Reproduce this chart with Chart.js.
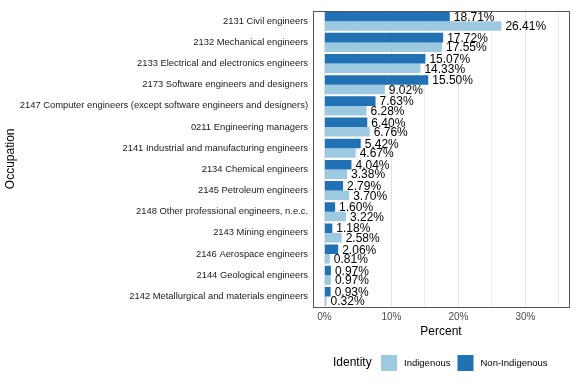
<!DOCTYPE html>
<html>
<head>
<meta charset="utf-8">
<script src="https://cdn.jsdelivr.net/npm/chart.js@4"></script>
<style>
  html, body { margin: 0; padding: 0; background: #fff; }
  #wrap { width: 576px; height: 384px; }
</style>
</head>
<body>
<div id="wrap"><canvas id="chart" width="576" height="384"></canvas></div>
<script>
// occupations, top to bottom
const occupations = [
  "2131 Civil engineers",
  "2132 Mechanical engineers",
  "2133 Electrical and electronics engineers",
  "2173 Software engineers and designers",
  "2147 Computer engineers (except software engineers and designers)",
  "0211 Engineering managers",
  "2141 Industrial and manufacturing engineers",
  "2134 Chemical engineers",
  "2145 Petroleum engineers",
  "2148 Other professional engineers, n.e.c.",
  "2143 Mining engineers",
  "2146 Aerospace engineers",
  "2144 Geological engineers",
  "2142 Metallurgical and materials engineers"
];
const nonIndigenous = [18.71, 17.72, 15.07, 15.50, 7.63, 6.40, 5.42, 4.04, 2.79, 1.60, 1.18, 2.06, 0.97, 0.93];
const indigenous    = [26.41, 17.55, 14.33, 9.02, 6.28, 6.76, 4.67, 3.38, 3.70, 3.22, 2.58, 0.81, 0.97, 0.32];
const xTicks = [0, 5, 10, 15, 20, 25, 30, 35];
const legendOrder = ["Indigenous", "Non-Indigenous"];

const DARK = "#2171b5";
const LIGHT = "#9ecae1";
const FONT = "'Liberation Sans', Arial, sans-serif";

// value labels at the end of each bar
const valueLabels = {
  id: "valueLabels",
  afterDatasetsDraw(chart) {
    const ctx = chart.ctx;
    ctx.save();
    ctx.font = "12px " + FONT;
    ctx.fillStyle = "#000";
    ctx.textBaseline = "middle";
    ctx.textAlign = "left";
    chart.data.datasets.forEach((ds, i) => {
      chart.getDatasetMeta(i).data.forEach((bar, j) => {
        ctx.fillText(ds.data[j].toFixed(2) + "%", bar.x + 4, bar.y + 1);
      });
    });
    ctx.restore();
  }
};

// panel border + legend at bottom
const panelAndLegend = {
  id: "panelAndLegend",
  afterDraw(chart) {
    const ctx = chart.ctx;
    const a = chart.chartArea;
    ctx.save();
    ctx.strokeStyle = "#555";
    ctx.lineWidth = 1;
    ctx.strokeRect(Math.round(a.left) + 0.5, Math.round(a.top) + 0.5,
                   Math.round(a.right - a.left), Math.round(a.bottom - a.top));

    const y = 363;
    ctx.textBaseline = "middle";
    ctx.textAlign = "left";
    ctx.fillStyle = "#000";
    ctx.font = "12px " + FONT;
    ctx.fillText("Identity", 333, y);
    let x = 381;
    legendOrder.forEach(name => {
      const ds = chart.data.datasets.find(d => d.label === name);
      ctx.fillStyle = ds.backgroundColor;
      ctx.fillRect(x, y - 8, 16, 16);
      ctx.fillStyle = "#000";
      ctx.font = "9.5px " + FONT;
      ctx.fillText(name, x + 23, y);
      x += 23 + ctx.measureText(name).width + 7;
    });
    ctx.restore();
  }
};

new Chart(document.getElementById("chart"), {
  type: "bar",
  data: {
    labels: occupations,
    datasets: [
      { label: "Non-Indigenous", data: nonIndigenous, backgroundColor: DARK },
      { label: "Indigenous", data: indigenous, backgroundColor: LIGHT }
    ]
  },
  options: {
    indexAxis: "y",
    responsive: false,
    animation: false,
    layout: { padding: { top: 6, right: 7, bottom: 45, left: 3 } },
    datasets: { bar: { categoryPercentage: 0.9, barPercentage: 1.0 } },
    plugins: {
      legend: { display: false },
      tooltip: { enabled: false }
    },
    scales: {
      x: {
        type: "linear",
        min: -1.7,
        max: 36.5,
        afterBuildTicks(scale) { scale.ticks = xTicks.map(v => ({ value: v })); },
        afterFit(scale) { scale.height = 32; },
        border: { display: false },
        grid: {
          drawTicks: false,
          color: ctx => (ctx.tick && ctx.tick.value % 10 === 0) ? "#e3e3e3" : "#eeeeee",
          lineWidth: 1
        },
        ticks: {
          padding: 4,
          color: "#4d4d4d",
          font: { family: FONT, size: 10 },
          callback: v => (v % 10 === 0 ? v + "%" : "")
        },
        title: {
          display: true,
          text: "Percent",
          color: "#000",
          font: { family: FONT, size: 12 },
          padding: { top: 1, bottom: 0 }
        }
      },
      y: {
        afterFit(scale) { scale.width = 310; },
        border: { display: false },
        grid: { display: false, drawTicks: false },
        ticks: {
          padding: 5,
          color: "#1a1a1a",
          autoSkip: false,
          font: { family: FONT, size: 9.4 }
        },
        title: {
          display: true,
          text: "Occupation",
          color: "#000",
          font: { family: FONT, size: 12 },
          padding: { top: 0, bottom: 0 }
        }
      }
    }
  },
  plugins: [valueLabels, panelAndLegend]
});
</script>
</body>
</html>
